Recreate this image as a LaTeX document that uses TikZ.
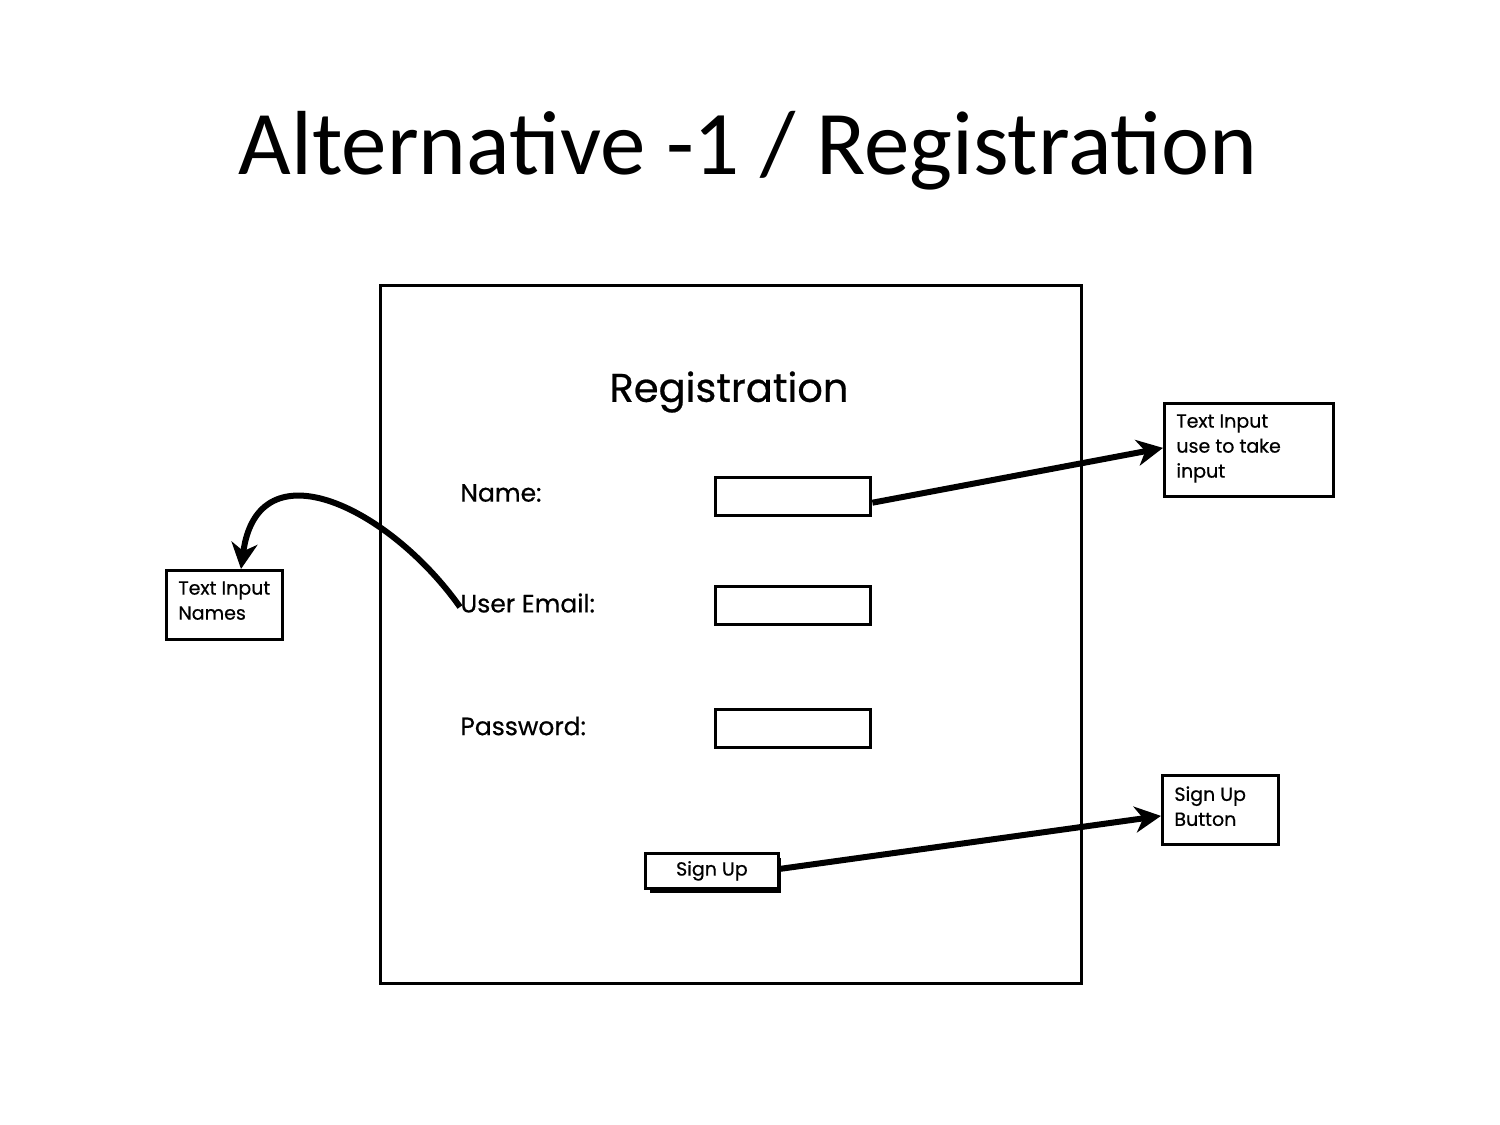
\documentclass[tikz,border=0pt]{standalone}
\usepackage{fontspec}
\setmainfont{Carlito}
\newfontfamily\sketchfont[FakeBold=0.6]{Poppins}
\usetikzlibrary{arrows.meta}
\tikzset{
  frame/.style={draw=black,line width=1.5pt},
  inputbox/.style={draw=black,line width=1.7pt,minimum width=77.5pt,minimum height=19pt,inner sep=0pt,anchor=north west},
  notebox/.style={draw=black,line width=1.4pt,inner sep=0pt,anchor=north west},
  notetext/.style={font=\sketchfont\fontsize{9.5pt}{12.5pt}\selectfont,align=left,anchor=north west,inner sep=0pt},
  lbl/.style={font=\sketchfont\fontsize{12.5pt}{15pt}\selectfont,anchor=west,inner sep=0pt},
  conn/.style={line width=3pt,-{Stealth[length=13pt,width=13pt,inset=4pt]}},
}
\begin{document}
\begin{tikzpicture}[x=0.5pt,y=-0.5pt]
\useasboundingbox[fill=white] (0,0) rectangle (1500,1125);
% title
\node[font=\fontsize{45.5pt}{50pt}\selectfont,inner sep=0pt] (title) at (748,151) {Alternative -1 / Registration};
% main frame
\node[frame,minimum width=350.5pt,minimum height=349pt,inner sep=0pt,anchor=north west] (frame) at (379,284) {};
\node[font=\sketchfont\fontsize{20pt}{24pt}\selectfont,inner sep=0pt] (reg) at (729,392) {Registration};
% labels
\node[lbl] (name) at (460,493) {Name:};
\node[lbl] (email) at (460,603) {User Email:};
\node[lbl] (pass) at (460,726) {Password:};
% inputs
\node[inputbox] (in1) at (714,476) {};
\node[inputbox] (in2) at (714,585) {};
\node[inputbox] (in3) at (714,708) {};
% sign up button with shadow
\fill[black] (650,858) rectangle (781,893);
\node[draw=black,fill=white,line width=1.4pt,minimum width=66.5pt,minimum height=17.5pt,inner sep=0pt,anchor=north west,font=\sketchfont\fontsize{9.5pt}{12pt}\selectfont] (btn) at (644,852) {Sign Up};
% note boxes
\node[notebox,minimum width=84.5pt,minimum height=46.5pt] (n1) at (1163,402) {};
\node[notetext] (n1t) at (1176,414) {Text Input\\use to take\\input};
\node[notebox,minimum width=58pt,minimum height=34.5pt] (n2) at (1161,774) {};
\node[notetext] (n2t) at (1174,786) {Sign Up\\Button};
\node[notebox,minimum width=58pt,minimum height=34.5pt] (n3) at (165,569) {};
\node[notetext] (n3t) at (178,581) {Text Input\\Names};
% connectors
\draw[conn] ([yshift=-3pt]in1.east) -- ([yshift=1pt]n1.west);
\draw[conn] ([yshift=1pt]btn.east) -- ([yshift=-3pt]n2.west);
\draw[conn] ([xshift=0pt,yshift=-2pt]email.west) .. controls (390,508) and (258,443) .. ([xshift=38pt]n3.north west);
\end{tikzpicture}
\end{document}
